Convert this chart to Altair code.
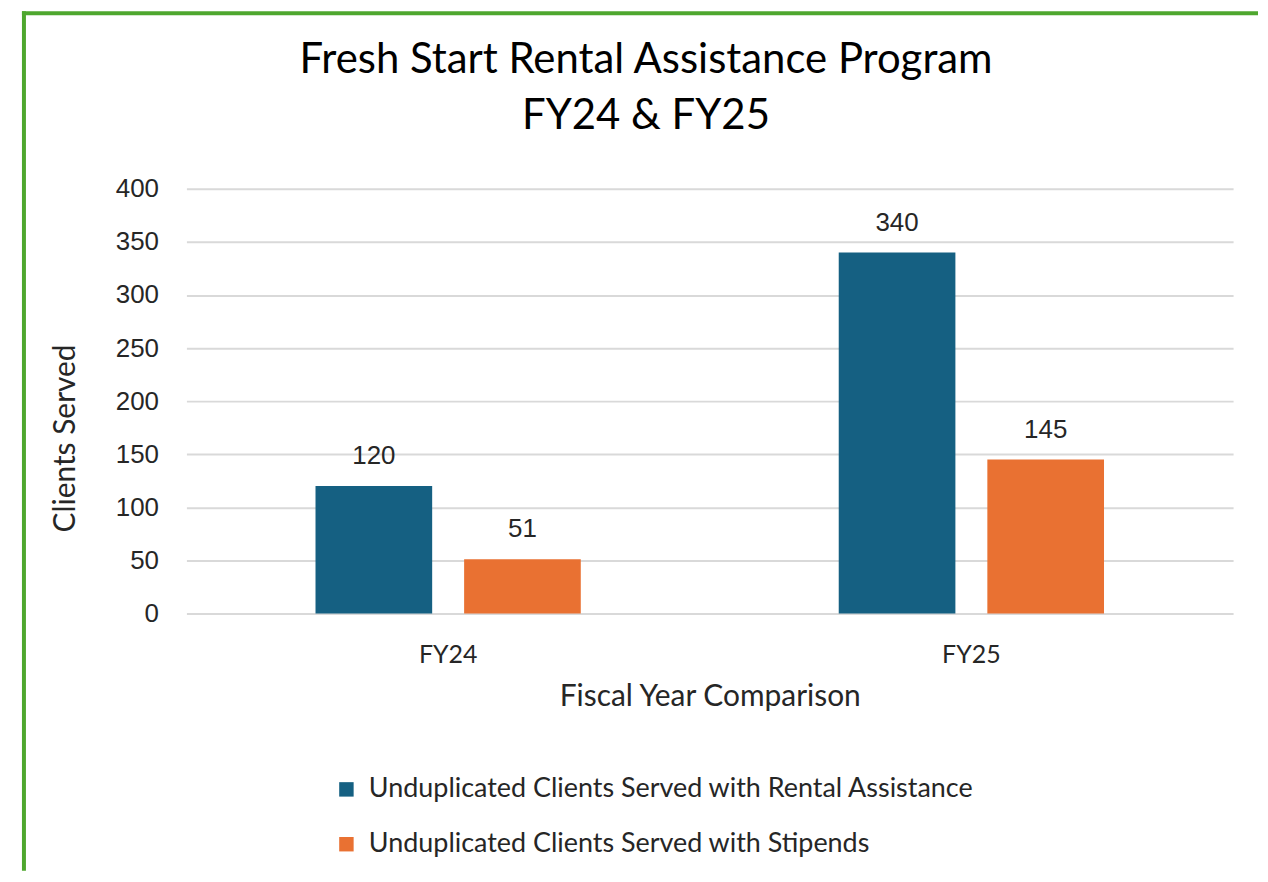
import altair as alt
import pandas as pd

years = ["FY24", "FY25"]
series = [
    "Unduplicated Clients Served with Rental Assistance",
    "Unduplicated Clients Served with Stipends",
]
rental = [120, 340]
stipends = [51, 145]
colors = ["#156082", "#E97132"]
y_ticks = [0, 50, 100, 150, 200, 250, 300, 350, 400]

rows = []
for i, yr in enumerate(years):
    rows.append({"year": yr, "series": series[0], "value": rental[i]})
    rows.append({"year": yr, "series": series[1], "value": stipends[i]})
df = pd.DataFrame(rows)

TEXT_FONT = "Lato"
NUM_FONT = "Liberation Sans"

base = alt.Chart(df).encode(
    x=alt.X(
        "year:N",
        sort=years,
        scale=alt.Scale(paddingInner=0.493, paddingOuter=0.2467),
        axis=alt.Axis(
            title="Fiscal Year Comparison",
            labelAngle=0,
            labelFont=TEXT_FONT,
            labelFontSize=25,
            labelColor="#262626",
            labelPadding=29,
            ticks=False,
            tickSize=0,
            domain=False,
            grid=False,
            titleFont=TEXT_FONT,
            titleFontSize=30,
            titleFontWeight="normal",
            titleColor="#262626",
            titleY=92,
            titleBaseline="alphabetic",
        ),
    ),
    xOffset=alt.XOffset(
        "series:N", sort=series, scale=alt.Scale(paddingInner=0.215, paddingOuter=0)
    ),
    y=alt.Y(
        "value:Q",
        scale=alt.Scale(domain=[0, 400], nice=False),
        axis=alt.Axis(
            title="Clients Served",
            values=y_ticks,
            labelFont=NUM_FONT,
            labelFontSize=26,
            labelColor="#262626",
            labelPadding=28,
            ticks=False,
            tickSize=0,
            domain=False,
            grid=True,
            gridColor="#D9D9D9",
            gridWidth=2,
            titleFont=TEXT_FONT,
            titleFontSize=30,
            titleFontWeight="normal",
            titleColor="#262626",
            titleAngle=270,
            titleX=-112,
            titleY=250,
            titleAlign="center",
            titleBaseline="alphabetic",
        ),
    ),
)

bars = base.mark_bar().encode(
    color=alt.Color(
        "series:N",
        sort=series,
        scale=alt.Scale(domain=series, range=colors),
        legend=alt.Legend(
            title=None,
            orient="none",
            legendX=147,
            legendY=589,
            direction="vertical",
            symbolType="square",
            symbolSize=210,
            symbolStrokeWidth=0,
            labelFont=TEXT_FONT,
            labelFontSize=27,
            labelColor="#262626",
            labelOffset=9,
            labelLimit=1000,
            rowPadding=27,
            padding=0,
        ),
    )
)

labels = base.mark_text(
    baseline="alphabetic", dy=-22, font=NUM_FONT, fontSize=26, color="#262626"
).encode(text=alt.Text("value:Q"))

one = pd.DataFrame({"k": [0]})
top_rule = alt.Chart(one).mark_rule(color="#4EA72E", strokeWidth=4).encode(
    x=alt.value(-165), x2=alt.value(1075), y=alt.value(-176)
)
left_rule = alt.Chart(one).mark_rule(color="#4EA72E", strokeWidth=4).encode(
    x=alt.value(-163), y=alt.value(-178), y2=alt.value(684)
)

chart = (
    alt.layer(bars, labels, top_rule, left_rule)
    .properties(
        width=1050,
        height=426,
        background="white",
        padding={"left": 12, "top": 0, "right": 0, "bottom": 0},
        title=alt.Title(
            ["Fresh Start Rental Assistance Program", "FY24 & FY25"],
            font=TEXT_FONT,
            fontSize=42,
            fontWeight="normal",
            lineHeight=56,
            color="#000000",
            anchor="middle",
            frame="group",
            dx=-64,
            offset=-129,
        ),
    )
    .configure_view(stroke=None, strokeWidth=0)
)

chart.save("out.html", embed_options={"renderer": "svg", "actions": False})
